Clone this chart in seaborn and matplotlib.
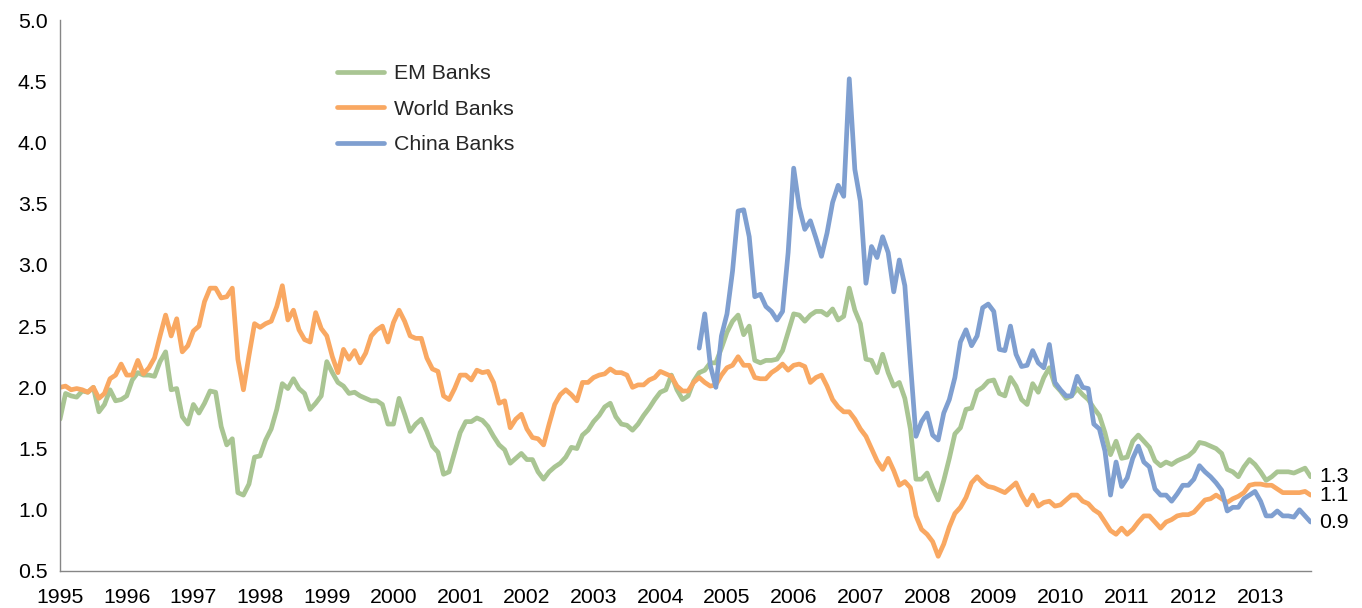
import numpy as np
import pandas as pd
import matplotlib
matplotlib.use("Agg")
import matplotlib.pyplot as plt
from matplotlib.lines import Line2D
import seaborn as sns

# ---------------- data (monthly, Jan 1995 - Oct 2013) ----------------
start_year = 1995
year_labels = list(range(1995, 2014))
series_names = ["EM Banks", "World Banks", "China Banks"]
series_colors = ["#A9C593", "#F9A862", "#7F9FD0"]

em_banks = [
    1.74, 1.95, 1.93, 1.92, 1.97, 1.96, 2.00, 1.80, 1.86, 1.98, 1.89, 1.90,  # 1995
    1.93, 2.06, 2.12, 2.10, 2.10, 2.09, 2.21, 2.29, 1.98, 1.99, 1.76, 1.70,  # 1996
    1.86, 1.79, 1.87, 1.97, 1.96, 1.68, 1.53, 1.58, 1.14, 1.12, 1.21, 1.43,  # 1997
    1.44, 1.57, 1.66, 1.82, 2.03, 1.99, 2.07, 1.99, 1.95, 1.82, 1.87, 1.93,  # 1998
    2.21, 2.12, 2.04, 2.01, 1.95, 1.96, 1.93, 1.91, 1.89, 1.89, 1.86, 1.70,  # 1999
    1.70, 1.91, 1.78, 1.64, 1.70, 1.74, 1.64, 1.52, 1.47, 1.29, 1.31, 1.47,  # 2000
    1.63, 1.72, 1.72, 1.75, 1.73, 1.68, 1.60, 1.53, 1.49, 1.38, 1.42, 1.46,  # 2001
    1.41, 1.41, 1.31, 1.25, 1.31, 1.35, 1.38, 1.43, 1.51, 1.50, 1.61, 1.65,  # 2002
    1.72, 1.77, 1.84, 1.87, 1.76, 1.70, 1.69, 1.65, 1.70, 1.77, 1.83, 1.90,  # 2003
    1.96, 1.98, 2.10, 1.98, 1.90, 1.93, 2.05, 2.12, 2.14, 2.20, 2.20, 2.32,  # 2004
    2.45, 2.54, 2.59, 2.43, 2.50, 2.22, 2.20, 2.22, 2.22, 2.23, 2.30, 2.45,  # 2005
    2.60, 2.59, 2.54, 2.59, 2.62, 2.62, 2.59, 2.64, 2.55, 2.58, 2.81, 2.63,  # 2006
    2.52, 2.23, 2.22, 2.12, 2.27, 2.12, 2.01, 2.04, 1.91, 1.66, 1.25, 1.25,  # 2007
    1.30, 1.18, 1.08, 1.24, 1.42, 1.62, 1.67, 1.82, 1.83, 1.97, 2.00, 2.05,  # 2008
    2.06, 1.95, 1.93, 2.08, 2.01, 1.90, 1.86, 2.03, 1.96, 2.08, 2.16, 2.02,  # 2009
    1.97, 1.91, 1.93, 1.99, 1.94, 1.90, 1.83, 1.77, 1.63, 1.45, 1.56, 1.42,  # 2010
    1.43, 1.56, 1.61, 1.56, 1.51, 1.40, 1.36, 1.39, 1.37, 1.40, 1.42, 1.44,  # 2011
    1.48, 1.55, 1.54, 1.52, 1.50, 1.46, 1.33, 1.31, 1.27, 1.35, 1.41, 1.37,  # 2012
    1.31, 1.24, 1.27, 1.31, 1.31, 1.31, 1.30, 1.32, 1.34, 1.27,              # 2013
]

world_banks = [
    2.00, 2.01, 1.98, 1.99, 1.98, 1.96, 2.00, 1.91, 1.95, 2.07, 2.10, 2.19,  # 1995
    2.10, 2.10, 2.22, 2.11, 2.16, 2.24, 2.42, 2.59, 2.42, 2.56, 2.29, 2.34,  # 1996
    2.46, 2.50, 2.70, 2.81, 2.81, 2.73, 2.74, 2.81, 2.23, 1.98, 2.26, 2.52,  # 1997
    2.49, 2.52, 2.54, 2.66, 2.83, 2.55, 2.63, 2.47, 2.39, 2.37, 2.61, 2.48,  # 1998
    2.42, 2.25, 2.12, 2.31, 2.23, 2.30, 2.20, 2.28, 2.42, 2.47, 2.50, 2.37,  # 1999
    2.53, 2.63, 2.54, 2.42, 2.40, 2.40, 2.24, 2.15, 2.13, 1.93, 1.90, 1.99,  # 2000
    2.10, 2.10, 2.06, 2.14, 2.12, 2.13, 2.04, 1.87, 1.89, 1.67, 1.74, 1.78,  # 2001
    1.66, 1.59, 1.58, 1.53, 1.70, 1.86, 1.94, 1.98, 1.94, 1.89, 2.04, 2.04,  # 2002
    2.08, 2.10, 2.11, 2.15, 2.12, 2.12, 2.10, 2.00, 2.02, 2.02, 2.06, 2.08,  # 2003
    2.13, 2.11, 2.09, 2.01, 1.97, 1.97, 2.04, 2.08, 2.04, 2.01, 2.02, 2.10,  # 2004
    2.16, 2.18, 2.25, 2.18, 2.18, 2.08, 2.07, 2.07, 2.12, 2.15, 2.19, 2.14,  # 2005
    2.18, 2.19, 2.17, 2.04, 2.08, 2.10, 2.01, 1.90, 1.84, 1.80, 1.80, 1.74,  # 2006
    1.66, 1.60, 1.50, 1.40, 1.33, 1.42, 1.32, 1.20, 1.23, 1.18, 0.95, 0.84,  # 2007
    0.80, 0.74, 0.62, 0.72, 0.86, 0.97, 1.02, 1.10, 1.22, 1.27, 1.22, 1.19,  # 2008
    1.18, 1.16, 1.14, 1.18, 1.22, 1.12, 1.04, 1.12, 1.03, 1.06, 1.07, 1.03,  # 2009
    1.04, 1.08, 1.12, 1.12, 1.07, 1.05, 1.00, 0.97, 0.90, 0.83, 0.80, 0.85,  # 2010
    0.80, 0.84, 0.90, 0.95, 0.95, 0.90, 0.85, 0.90, 0.92, 0.95, 0.96, 0.96,  # 2011
    0.98, 1.03, 1.08, 1.09, 1.12, 1.09, 1.06, 1.09, 1.11, 1.14, 1.20, 1.21,  # 2012
    1.21, 1.20, 1.20, 1.17, 1.14, 1.14, 1.14, 1.14, 1.15, 1.12,              # 2013
]

china_start_month = 115  # Aug 2004 (months after Jan 1995)
china_banks = [
    2.32, 2.60, 2.18, 2.00, 2.42,                                            # 2004 Aug-Dec
    2.60, 2.95, 3.44, 3.45, 3.23, 2.74, 2.76, 2.66, 2.62, 2.55, 2.62, 3.10,  # 2005
    3.79, 3.47, 3.29, 3.36, 3.22, 3.07, 3.26, 3.51, 3.65, 3.56, 4.52, 3.78,  # 2006
    3.52, 2.85, 3.15, 3.06, 3.23, 3.10, 2.78, 3.04, 2.83, 2.20, 1.60, 1.72,  # 2007
    1.79, 1.61, 1.57, 1.79, 1.90, 2.08, 2.37, 2.47, 2.34, 2.42, 2.65, 2.68,  # 2008
    2.62, 2.31, 2.30, 2.50, 2.27, 2.17, 2.18, 2.30, 2.20, 2.16, 2.35, 2.04,  # 2009
    1.98, 1.93, 1.93, 2.09, 2.00, 1.99, 1.70, 1.66, 1.48, 1.12, 1.39, 1.19,  # 2010
    1.26, 1.42, 1.52, 1.39, 1.35, 1.17, 1.12, 1.12, 1.07, 1.13, 1.20, 1.20,  # 2011
    1.25, 1.36, 1.31, 1.27, 1.22, 1.16, 0.99, 1.02, 1.02, 1.09, 1.12, 1.15,  # 2012
    1.07, 0.95, 0.95, 0.99, 0.95, 0.95, 0.94, 1.00, 0.95, 0.90,              # 2013
]

# ---------------- build long table ----------------
n = len(em_banks)
x_all = start_year + np.arange(n) / 12.0
x_china = start_year + (china_start_month + np.arange(len(china_banks))) / 12.0
df = pd.concat([
    pd.DataFrame({"x": x_all, "value": em_banks, "series": "EM Banks"}),
    pd.DataFrame({"x": x_all, "value": world_banks, "series": "World Banks"}),
    pd.DataFrame({"x": x_china, "value": china_banks, "series": "China Banks"}),
], ignore_index=True)

# ---------------- plot ----------------
sns.set_theme(style="white")
plt.rcParams["font.family"] = ["Liberation Sans", "DejaVu Sans"]

W, H = 1362, 608
FS = 15.3
fig = plt.figure(figsize=(W / 100, H / 100), dpi=100)
ax = fig.add_axes([60 / W, 1 - 571 / H, (1310.6 - 60) / W, (571 - 20) / H])

lw = 3.4
sns.lineplot(data=df, x="x", y="value", hue="series", hue_order=series_names,
             palette=series_colors, linewidth=lw, estimator=None, sort=False,
             legend=False, ax=ax)
for ln in ax.lines:
    ln.set_solid_capstyle("round")
    ln.set_solid_joinstyle("round")

ax.set_xlim(start_year, start_year + (n - 1) / 12.0)
ax.set_ylim(0.5, 5.0)
ax.set_xticks(year_labels)
ax.set_xticklabels([str(y) for y in year_labels])
yt = np.arange(0.5, 5.01, 0.5)
ax.set_yticks(yt)
ax.set_yticklabels([f"{v:.1f}" for v in yt])
ax.set_xlabel("")
ax.set_ylabel("")

axis_col = "#868686"
for s in ["top", "right"]:
    ax.spines[s].set_visible(False)
for s in ["left", "bottom"]:
    ax.spines[s].set_color(axis_col)
    ax.spines[s].set_linewidth(1.0)
ax.tick_params(axis="both", direction="out", length=5, width=1, color=axis_col,
               labelsize=FS, labelcolor="black")
ax.tick_params(axis="y", pad=4)
ax.tick_params(axis="x", pad=7)

# legend
handles = [Line2D([0], [0], color=c, lw=lw, solid_capstyle="round") for c in series_colors]
ax.legend(handles, series_names, loc="upper left",
          bbox_to_anchor=(337 / W, 1 - 64 / H), bbox_transform=fig.transFigure,
          frameon=False, handlelength=2.2, handletextpad=0.5, labelspacing=0.78,
          borderpad=0, borderaxespad=0, fontsize=FS)

# end-of-line value labels
for xs, vals in [(x_all, em_banks), (x_all, world_banks), (x_china, china_banks)]:
    ax.annotate(f"{vals[-1]:.1f}", xy=(xs[-1], vals[-1]), xytext=(6, 0),
                textcoords="offset points", ha="left", va="center",
                fontsize=FS, color="black", annotation_clip=False)

fig.savefig("out.png", dpi=100)
